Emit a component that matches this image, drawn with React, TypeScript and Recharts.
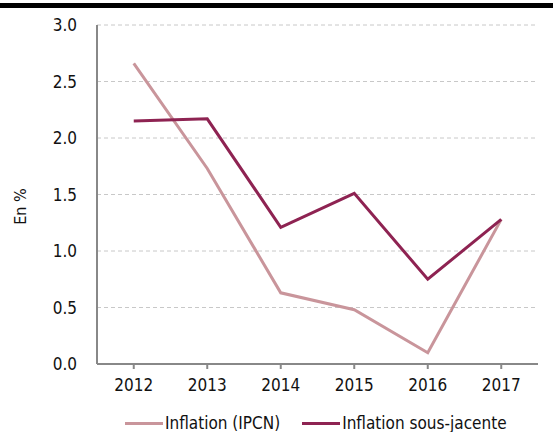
import React from 'react';
import { LineChart, Line, XAxis, YAxis, CartesianGrid, Legend } from 'recharts';

const years = ['2012', '2013', '2014', '2015', '2016', '2017'];
const ipcn = [2.66, 1.73, 0.63, 0.48, 0.1, 1.28];
const sousJacente = [2.15, 2.17, 1.21, 1.51, 0.75, 1.28];
const yTicks = [0, 0.5, 1, 1.5, 2, 2.5, 3];

const LIGHT = '#C9959B';
const DARK = '#8E2352';
const FONT = '"DejaVu Sans Condensed", "DejaVu Sans", sans-serif';

const data = years.map((year, i) => ({
  year,
  ipcn: ipcn[i],
  sous: sousJacente[i],
}));

const legendItems = [
  { label: 'Inflation (IPCN)', color: LIGHT },
  { label: 'Inflation sous-jacente', color: DARK },
];

const ChartLegend = () => (
  <div style={{ display: 'flex', alignItems: 'center', marginLeft: 125, paddingTop: 18, fontFamily: FONT, fontSize: 17, color: '#111' }}>
    {legendItems.map((item, i) => (
      <div key={item.label} style={{ display: 'flex', alignItems: 'center', marginLeft: i === 0 ? 0 : 22 }}>
        <span style={{ display: 'inline-block', width: 38, height: 3, background: item.color, marginRight: 2 }} />
        <span style={{ lineHeight: '18px' }}>{item.label}</span>
      </div>
    ))}
  </div>
);

const App: React.FC = () => {
  return (
    <div style={{ position: 'absolute', left: 0, top: 0, width: 553, height: 432, background: '#fff' }}>
      <div style={{ position: 'absolute', left: 0, top: 3, width: 553, height: 5, background: '#000' }} />
      <LineChart width={553} height={432} data={data} margin={{ top: 25, right: 15, bottom: 0, left: 0 }}>
        <CartesianGrid vertical={false} stroke="#c8c8c8" strokeDasharray="4 3" />
        <XAxis
          dataKey="year"
          scale="band"
          height={32}
          stroke="#888"
          strokeWidth={2}
          tickSize={5}
          tickMargin={10}
          tick={{ fill: '#111', fontSize: 17, fontFamily: FONT }}
        />
        <YAxis
          width={97}
          domain={[0, 3]}
          ticks={yTicks}
          tickFormatter={(v: number) => v.toFixed(1)}
          stroke="#888"
          strokeWidth={2}
          tickLine={false}
          tickSize={0}
          tickMargin={20}
          tick={{ fill: '#111', fontSize: 17, fontFamily: FONT }}
          label={{ value: 'En %', angle: -90, position: 'insideLeft', offset: 20, dy: 12, style: { fill: '#111', fontSize: 16, fontFamily: FONT, textAnchor: 'middle' } }}
        />
        <Legend verticalAlign="bottom" height={36} content={() => <ChartLegend />} />
        <Line dataKey="ipcn" name="Inflation (IPCN)" stroke={LIGHT} strokeWidth={3} dot={false} isAnimationActive={false} />
        <Line dataKey="sous" name="Inflation sous-jacente" stroke={DARK} strokeWidth={3} dot={false} isAnimationActive={false} />
      </LineChart>
    </div>
  );
};

export default App;
